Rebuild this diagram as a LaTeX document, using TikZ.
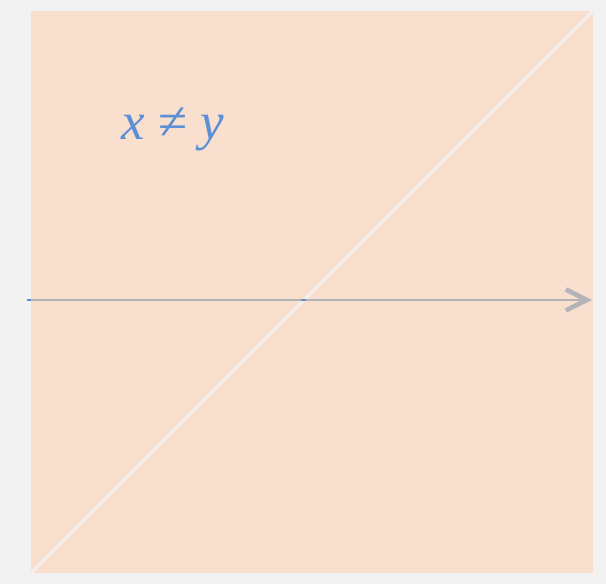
\documentclass[tikz,border=0pt]{standalone}
\usepackage{fontspec}
\setmainfont{Liberation Serif}
\usetikzlibrary{arrows.meta}
\definecolor{bgc}{HTML}{F2F2F2}
\definecolor{peach}{HTML}{F9E0CE}
\definecolor{diagc}{HTML}{F3EFEC}
\definecolor{axisc}{HTML}{B5B3B8}
\definecolor{bluec}{HTML}{5B8FD6}
\tikzset{
  axisline/.style={draw=axisc, line width=2pt},
  bluebit/.style={draw=bluec, line width=2.4pt},
  diagline/.style={draw=diagc, line width=2.6pt},
  lbl/.style={text=bluec, font=\fontsize{53}{60}\selectfont, inner sep=0pt}
}
\begin{document}
\begin{tikzpicture}[x=1pt,y=1pt]
\useasboundingbox[fill=bgc] (0,0) rectangle (606,584);
\fill[peach] (31,11) rectangle (593,573);
\coordinate (dl) at (31,11);
\coordinate (dr) at (593,573);
\draw[diagline] (dl) -- (dr);
\coordinate (al) at (27,284);
\coordinate (ar) at (592,284);
\draw[axisline, -{Straight Barb[length=21pt,width=21pt,line width=4.6pt]}] (al) -- (ar);
\coordinate (bl1) at (27,284);
\coordinate (bl2) at (31,284);
\draw[bluebit] (bl1) -- (bl2);
\coordinate (bm1) at (301,284);
\coordinate (bm2) at (306,284);
\draw[bluebit] (bm1) -- (bm2);
\node[lbl] (eq) at (173,455) {\textit{x} ≠ \textit{y}};
\end{tikzpicture}
\end{document}
